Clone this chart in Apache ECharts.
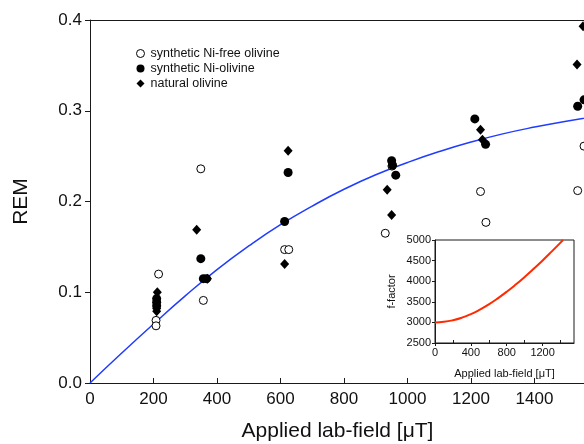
<!DOCTYPE html>
<html><head><meta charset="utf-8">
<script src="https://cdn.jsdelivr.net/npm/echarts@6/dist/echarts.min.js"></script>
<style>html,body{margin:0;padding:0;background:#fff}#c{width:584px;height:444px}</style>
</head><body><div id="c"></div>
<script>
// Data
const niFree = [[216,0.120],[208,0.069],[208,0.063],[349,0.236],[357,0.091],[613,0.147],[626,0.147],[951,0.239],[930,0.165],[1230,0.211],[1247,0.177],[1536,0.212],[1556,0.261]];
const niOlivine = [[210,0.093],[210,0.089],[210,0.085],[349,0.137],[357,0.115],[367,0.115],[613,0.178],[624,0.232],[950,0.245],[953,0.240],[963,0.229],[1212,0.291],[1246,0.263],[1536,0.305],[1556,0.312]];
const natural = [[212,0.100],[210,0.082],[210,0.079],[336,0.169],[370,0.115],[613,0.131],[624,0.256],[936,0.213],[950,0.185],[1230,0.279],[1236,0.268],[1534,0.351],[1553,0.393]];
const remCurve = [[0,0],[100,0.033],[200,0.065],[300,0.096],[400,0.125],[500,0.151],[600,0.1745],[700,0.195],[800,0.2135],[900,0.2295],[1000,0.243],[1100,0.255],[1200,0.2655],[1300,0.2745],[1400,0.282],[1500,0.2885],[1600,0.294]];
const fCurve = [[0,3000],[100,3013],[200,3052],[300,3115],[400,3202],[500,3311],[600,3438],[700,3584],[800,3744],[900,3918],[1000,4104],[1100,4300],[1200,4504],[1300,4717],[1400,4936],[1428,5000]];
const mainXTicks = [0,200,400,600,800,1000,1200,1400];
const mainYTicks = [0,0.1,0.2,0.3,0.4];
const insetXTicks = [0,400,800,1200];
const insetXMinor = [200,600,1000,1400];
const insetYTicks = [2500,3000,3500,4000,4500,5000];
const legendNames = ['synthetic Ni-free olivine','synthetic Ni-olivine','natural olivine'];

const FONT = '"Liberation Sans", Arial, sans-serif';
const chart = echarts.init(document.getElementById('c'), null, {renderer:'canvas'});
const axisCol = '#1a1a1a';
const plain = v => String(v);
chart.setOption({
  animation:false,
  backgroundColor:'#fff',
  textStyle:{fontFamily:FONT},
  legend:{
    data:[
      {name:legendNames[0], icon:'circle', itemStyle:{color:'#fff',borderColor:'#000',borderWidth:1}},
      {name:legendNames[1], icon:'circle', itemStyle:{color:'#000',borderWidth:0}},
      {name:legendNames[2], icon:'diamond', itemStyle:{color:'#000',borderWidth:0}}
    ],
    orient:'vertical', left:131, top:42,
    itemWidth:8, itemHeight:8, itemGap:2,
    textStyle:{fontFamily:FONT,fontSize:12.5,color:'#111',lineHeight:13,padding:[0,0,0,1]}
  },
  grid:[
    {left:90, top:20, right:-14, bottom:61, show:false, containLabel:false, outerBoundsMode:'none'},
    {left:435, top:240, width:139, height:103, show:true, backgroundColor:'#fff', borderColor:axisCol, borderWidth:1, z:10, containLabel:false, outerBoundsMode:'none'}
  ],
  xAxis:[
    {gridIndex:0, type:'value', min:0, max:1600, interval:200, position:'bottom',
     name:'Applied lab-field [μT]', nameLocation:'middle', nameGap:38,
     nameTextStyle:{fontFamily:FONT,fontSize:21,color:'#111',padding:[0,13,0,0]},
     axisLine:{lineStyle:{color:axisCol,width:1}},
     axisTick:{inside:true,length:5,lineStyle:{color:axisCol},customValues:mainXTicks},
     axisLabel:{fontFamily:FONT,fontSize:17,color:'#111',margin:8,customValues:mainXTicks,formatter:plain},
     splitLine:{show:false}},
    {gridIndex:0, type:'value', min:0, max:1600, position:'top',
     axisLine:{show:true,onZero:false,lineStyle:{color:axisCol,width:1}},
     axisTick:{show:false}, axisLabel:{show:false}, splitLine:{show:false}},
    {gridIndex:1, type:'value', min:0, max:1550, interval:400, position:'bottom',
     name:'Applied lab-field [μT]', nameLocation:'middle', nameGap:25,
     nameTextStyle:{fontFamily:FONT,fontSize:11,color:'#111'},
     axisLine:{onZero:false,lineStyle:{color:axisCol}},
     axisTick:{inside:false,length:3,lineStyle:{color:axisCol},customValues:insetXTicks},
     axisLabel:{fontFamily:FONT,fontSize:11,color:'#111',margin:4,customValues:insetXTicks,formatter:plain},
     splitLine:{show:false}, z:11},
    {gridIndex:1, type:'value', min:0, max:1550, position:'bottom',
     axisLine:{show:false},
     axisTick:{inside:true,length:3,lineStyle:{color:axisCol},customValues:insetXMinor},
     axisLabel:{show:false}, splitLine:{show:false}, z:11}
  ],
  yAxis:[
    {gridIndex:0, type:'value', min:0, max:0.4, interval:0.1,
     name:'REM', nameLocation:'middle', nameGap:58, nameRotate:90,
     nameTextStyle:{fontFamily:FONT,fontSize:21,color:'#111'},
     axisLine:{show:true,onZero:false,lineStyle:{color:axisCol}},
     axisTick:{show:true,inside:false,length:5,lineStyle:{color:axisCol},customValues:mainYTicks},
     axisLabel:{fontFamily:FONT,fontSize:17,color:'#111',margin:8,customValues:mainYTicks,formatter:v=>v.toFixed(1)},
     splitLine:{show:false}},
    {gridIndex:1, type:'value', min:2500, max:5000, interval:500,
     name:'f-factor', nameLocation:'middle', nameGap:38, nameRotate:90,
     nameTextStyle:{fontFamily:FONT,fontSize:11,color:'#111'},
     axisLine:{show:true,onZero:false,lineStyle:{color:axisCol}},
     axisTick:{show:true,inside:false,length:3,lineStyle:{color:axisCol},customValues:insetYTicks},
     axisLabel:{fontFamily:FONT,fontSize:11,color:'#111',margin:4,customValues:insetYTicks,formatter:plain},
     splitLine:{show:false}, z:11}
  ],
  series:[
    {type:'line', name:'curve', xAxisIndex:0, yAxisIndex:0, data:remCurve, smooth:true, showSymbol:false,
     lineStyle:{color:'#1f3cff',width:1.5}, z:3, silent:true},
    {type:'scatter', name:legendNames[0], xAxisIndex:0, yAxisIndex:0, data:niFree, symbol:'circle', symbolSize:8,
     itemStyle:{color:'#fff',borderColor:'#000',borderWidth:1,opacity:1}, z:4},
    {type:'scatter', name:legendNames[1], xAxisIndex:0, yAxisIndex:0, data:niOlivine, symbol:'circle', symbolSize:9,
     itemStyle:{color:'#000',borderColor:'#000',borderWidth:0,opacity:1}, z:5},
    {type:'scatter', name:legendNames[2], xAxisIndex:0, yAxisIndex:0, data:natural, symbol:'diamond', symbolSize:[9,10],
     itemStyle:{color:'#000',opacity:1}, z:6},
    {type:'line', name:'f', xAxisIndex:2, yAxisIndex:1, data:fCurve, smooth:true, showSymbol:false,
     lineStyle:{color:'#ff2a00',width:2}, z:12, silent:true, clip:true}
  ]
});
</script></body></html>
